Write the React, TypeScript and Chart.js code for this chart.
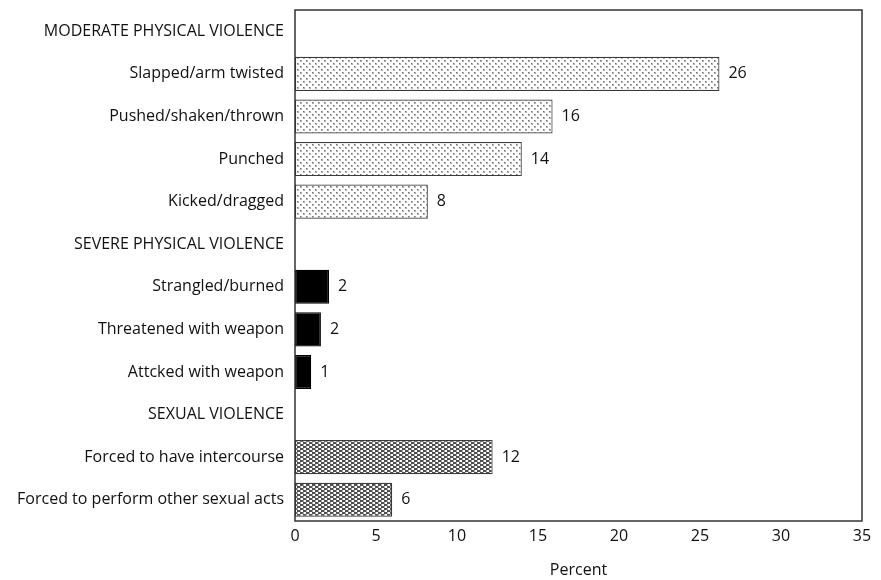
import React, { useEffect, useRef } from "react";
import { Chart, registerables } from "chart.js";

Chart.register(...registerables);

const categories = [
  "MODERATE PHYSICAL VIOLENCE",
  "Slapped/arm twisted",
  "Pushed/shaken/thrown",
  "Punched",
  "Kicked/dragged",
  "SEVERE PHYSICAL VIOLENCE",
  "Strangled/burned",
  "Threatened with weapon",
  "Attcked with weapon",
  "SEXUAL VIOLENCE",
  "Forced to have intercourse",
  "Forced to perform other sexual acts",
];
const values: (number | null)[] = [null, 26.2, 15.9, 14.0, 8.2, null, 2.1, 1.6, 1.0, null, 12.2, 6.0];
const valueLabels: (string | null)[] = [null, "26", "16", "14", "8", null, "2", "2", "1", null, "12", "6"];
const groups: string[] = ["h", "m", "m", "m", "m", "h", "s", "s", "s", "h", "x", "x"];
const xTicks = [0, 5, 10, 15, 20, 25, 30, 35];

const FONT = "'Open Sans'";
const FS = 16;

function makePattern(kind: "m" | "x"): CanvasPattern | string {
  const c = document.createElement("canvas");
  c.width = 6;
  c.height = kind === "m" ? 6 : 4;
  const g = c.getContext("2d")!;
  g.fillStyle = "#ffffff";
  g.fillRect(0, 0, c.width, c.height);
  if (kind === "m") {
    g.fillStyle = "#b0b0b0";
    g.fillRect(0, 0, 2, 2);
    g.fillRect(3, 3, 2, 2);
    g.fillStyle = "#707070";
    g.fillRect(0, 0, 1, 1);
    g.fillRect(3, 3, 1, 1);
  } else {
    g.fillStyle = "#505050";
    g.fillRect(0, 0, 3, 2);
    g.fillRect(3, 2, 3, 2);
    g.fillStyle = "#a8a8a8";
    g.fillRect(3, 0, 1, 2);
    g.fillRect(0, 2, 1, 2);
  }
  const p = g.createPattern(c, "repeat");
  return p || "#ccc";
}

export default function App() {
  const ref = useRef<HTMLCanvasElement>(null);
  useEffect(() => {
    document.body.style.margin = "0";
    const ctx = ref.current!.getContext("2d")!;
    const pm = makePattern("m");
    const px = makePattern("x");
    const bg = groups.map((g) => (g === "m" ? pm : g === "x" ? px : g === "s" ? "#000000" : "rgba(0,0,0,0)"));
    const bc = groups.map((g) => (g === "s" ? "#000000" : "#3a3a3a"));

    const frame = {
      id: "frame",
      afterDatasetsDraw(chart: any) {
        const { ctx, chartArea: a } = chart;
        ctx.save();
        ctx.strokeStyle = "#333";
        ctx.lineWidth = 1.5;
        ctx.strokeRect(a.left, a.top, a.right - a.left, a.bottom - a.top);
        const meta = chart.getDatasetMeta(0);
        ctx.fillStyle = "#111";
        ctx.font = `${FS}px ${FONT}`;
        ctx.textBaseline = "middle";
        ctx.textAlign = "left";
        meta.data.forEach((el: any, i: number) => {
          const lab = valueLabels[i];
          if (lab == null) return;
          ctx.fillText(lab, el.x + 9, el.y);
        });
        ctx.restore();
      },
    };

    const chart = new Chart(ctx, {
      type: "bar",
      data: {
        labels: categories,
        datasets: [
          {
            data: values as any,
            backgroundColor: bg as any,
            borderColor: bc,
            borderWidth: 1.2,
            borderSkipped: false,
            barPercentage: 0.8,
            categoryPercentage: 1,
          },
        ],
      },
      options: {
        indexAxis: "y",
        animation: false,
        responsive: false,
        layout: { padding: { top: 10, right: 19, left: 0, bottom: 0 } },
        plugins: { legend: { display: false }, tooltip: { enabled: false } },
        scales: {
          x: {
            min: 0,
            max: 35,
            afterBuildTicks: (s: any) => {
              s.ticks = xTicks.map((v) => ({ value: v }));
            },
            afterFit: (s: any) => {
              s.height = 59;
              s.paddingLeft = 0;
              s.paddingRight = 0;
            },
            grid: { display: false, drawTicks: false },
            border: { display: false },
            ticks: { color: "#111", font: { family: FONT, size: FS }, padding: 6, maxRotation: 0, autoSkip: false },
            title: { display: true, text: "Percent", color: "#111", font: { family: FONT, size: FS }, padding: { top: 0, bottom: 0 } },
          },
          y: {
            afterFit: (s: any) => {
              s.width = 295;
              s.paddingTop = 0;
              s.paddingBottom = 0;
            },
            grid: { display: false, drawTicks: false },
            border: { display: false },
            ticks: { color: "#111", font: { family: FONT, size: FS }, padding: 11, autoSkip: false },
          },
        },
      },
      plugins: [frame],
    });
    return () => chart.destroy();
  }, []);
  return (
    <div style={{ width: 881, height: 580 }}>
      <canvas ref={ref} width={881} height={580} />
    </div>
  );
}
